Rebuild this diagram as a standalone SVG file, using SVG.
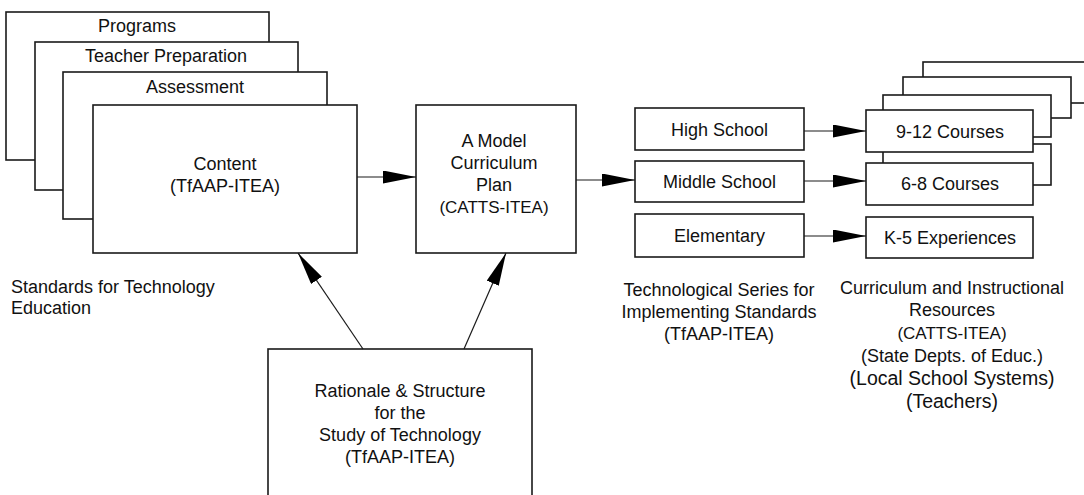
<svg xmlns="http://www.w3.org/2000/svg" width="1084" height="495" viewBox="0 0 1084 495">
  <style>
    .box { fill: #ffffff; stroke: #1a1a1a; stroke-width: 1.6; }
    .t { font-family: "Liberation Sans", Arial, sans-serif; font-size: 18px; fill: #111111; text-anchor: middle; }
    .tl { font-family: "Liberation Sans", Arial, sans-serif; font-size: 18px; fill: #111111; text-anchor: start; }
    .c { stroke: #1a1a1a; stroke-width: 1.2; fill: none; marker-end: url(#arr); }
  </style>
  <defs>
    <marker id="arr" markerUnits="userSpaceOnUse" markerWidth="34" markerHeight="14" refX="33" refY="6.5" orient="auto">
      <path d="M0,0 L33,6.5 L0,13 z" fill="#000000"/>
    </marker>
  </defs>
  <rect width="1084" height="495" fill="#ffffff"/>

  <g id="standards">
    <g id="programs">
      <rect class="box" x="6" y="12" width="263" height="148"/>
      <text class="t" x="137" y="32">Programs</text>
    </g>
    <g id="teacher-preparation">
      <rect class="box" x="35" y="42" width="263" height="148"/>
      <text class="t" x="166" y="62">Teacher Preparation</text>
    </g>
    <g id="assessment">
      <rect class="box" x="63" y="72" width="264" height="147"/>
      <text class="t" x="195" y="93">Assessment</text>
    </g>
    <g id="content">
      <rect class="box" x="93" y="105" width="264" height="148"/>
      <text class="t" x="225" y="170">Content</text>
      <text class="t" x="225" y="192">(TfAAP-ITEA)</text>
    </g>
  </g>

  <g id="model-plan">
    <rect class="box" x="416" y="105" width="160" height="148"/>
    <text class="t" x="494" y="147">A Model</text>
    <text class="t" x="494" y="169">Curriculum</text>
    <text class="t" x="494" y="191">Plan</text>
    <text class="t" x="494" y="213" style="font-size:17px">(CATTS-ITEA)</text>
  </g>

  <g id="rationale">
    <rect class="box" x="268" y="349" width="264" height="160"/>
    <text class="t" x="400" y="397">Rationale &amp; Structure</text>
    <text class="t" x="400" y="419">for the</text>
    <text class="t" x="400" y="441">Study of Technology</text>
    <text class="t" x="400" y="463">(TfAAP-ITEA)</text>
  </g>

  <g id="high-school">
    <rect class="box" x="635" y="108" width="169" height="42"/>
    <text class="t" x="719.5" y="136">High School</text>
  </g>
  <g id="middle-school">
    <rect class="box" x="635" y="161" width="169" height="41"/>
    <text class="t" x="719.5" y="188">Middle School</text>
  </g>
  <g id="elementary">
    <rect class="box" x="635" y="214" width="169" height="43"/>
    <text class="t" x="719.5" y="242">Elementary</text>
  </g>

  <g id="course-stack">
    <rect class="box" x="923" y="62" width="170" height="41"/>
    <rect class="box" x="903" y="77" width="168" height="41"/>
    <rect class="box" x="883" y="95" width="168" height="42"/>
    <rect class="box" x="883" y="144" width="168" height="41"/>
  </g>
  <g id="courses-9-12">
    <rect class="box" x="866" y="110" width="167" height="42"/>
    <text class="t" x="950" y="138">9-12 Courses</text>
  </g>
  <g id="courses-6-8">
    <rect class="box" x="866" y="163" width="167" height="42"/>
    <text class="t" x="950" y="190">6-8 Courses</text>
  </g>
  <g id="k5-experiences">
    <rect class="box" x="866" y="217" width="167" height="41"/>
    <text class="t" x="950" y="244">K-5 Experiences</text>
  </g>

  <g id="labels">
    <text class="tl" x="11" y="293">Standards for Technology</text>
    <text class="tl" x="11" y="314">Education</text>
    <text class="t" x="719" y="296">Technological Series for</text>
    <text class="t" x="719" y="318">Implementing Standards</text>
    <text class="t" x="719" y="340">(TfAAP-ITEA)</text>
    <text class="t" x="952" y="294">Curriculum and Instructional</text>
    <text class="t" x="952" y="316">Resources</text>
    <text class="t" x="952" y="339" style="font-size:17px">(CATTS-ITEA)</text>
    <text class="t" x="952" y="362">(State Depts. of Educ.)</text>
    <text class="t" x="952" y="385" style="font-size:19.5px">(Local School Systems)</text>
    <text class="t" x="952" y="408" style="font-size:19.5px">(Teachers)</text>
  </g>

  <g id="connectors">
    <line class="c" x1="357" y1="177" x2="416" y2="177"/>
    <line class="c" x1="576" y1="180" x2="635" y2="180"/>
    <line class="c" x1="804" y1="131" x2="866" y2="131"/>
    <line class="c" x1="804" y1="181" x2="866" y2="181"/>
    <line class="c" x1="804" y1="236" x2="866" y2="236"/>
    <line class="c" x1="363" y1="349" x2="298" y2="253"/>
    <line class="c" x1="464" y1="349" x2="506" y2="253"/>
  </g>
</svg>
